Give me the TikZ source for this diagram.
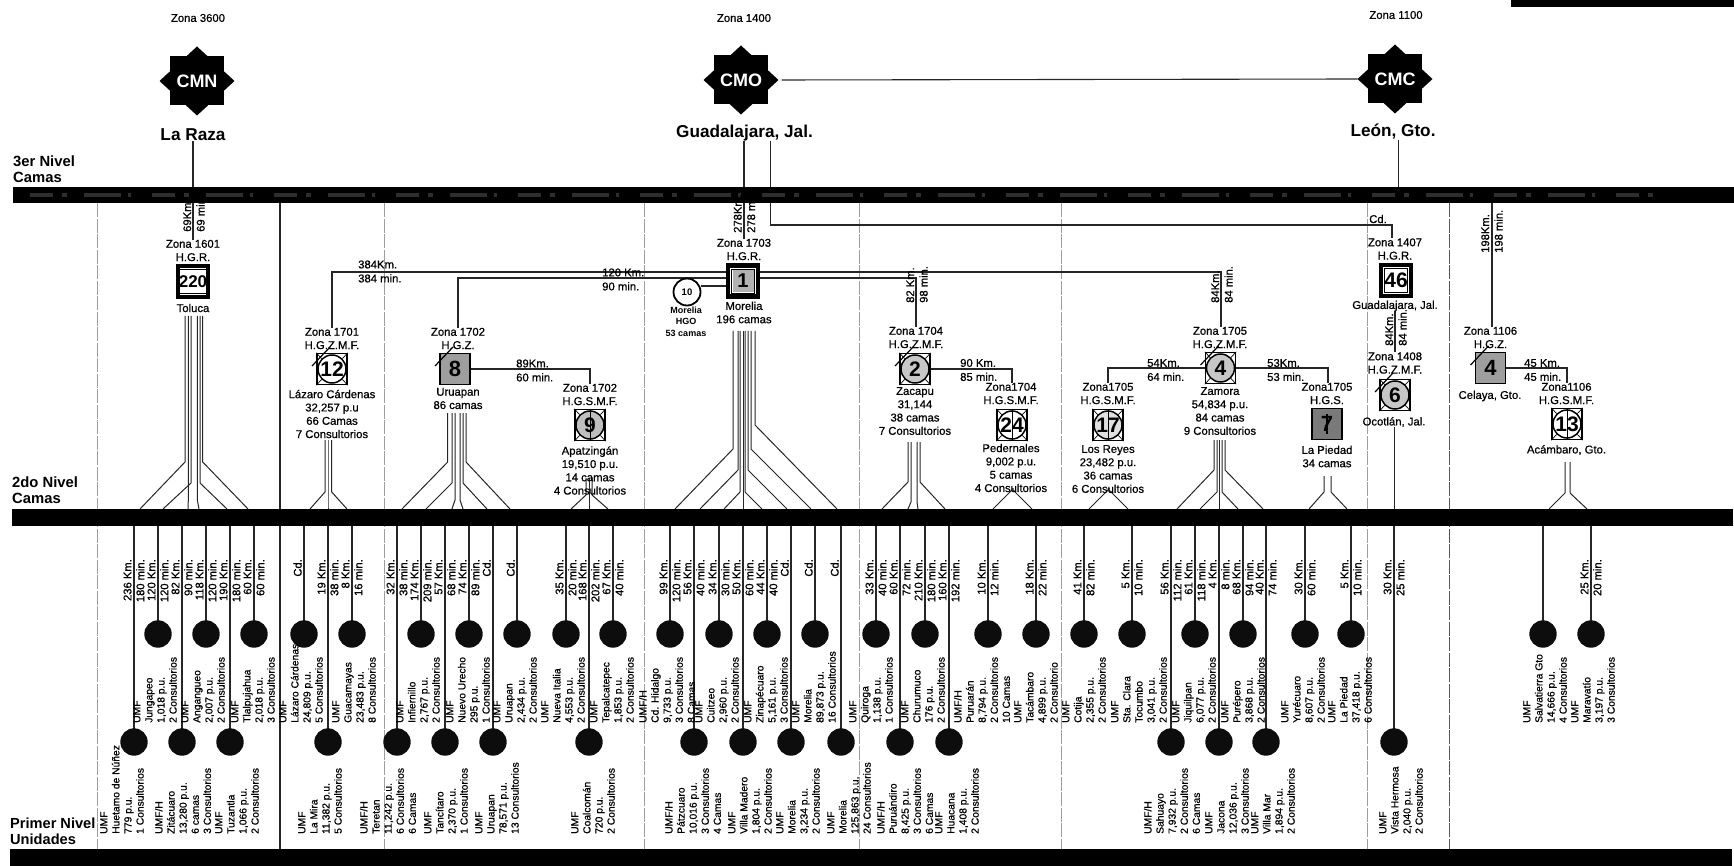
\documentclass[tikz,border=0pt]{standalone}
\usepackage{fontspec}
\setmainfont{Liberation Sans}
\newfontfamily\ink[FakeBold=0.7]{Liberation Sans}
\usetikzlibrary{shapes.geometric}
\pgfdeclarelayer{bg}
\pgfsetlayers{bg,main}
\newcommand{\myfs}[2]{\fontsize{#1}{#2}\selectfont}
\tikzset{
  x=1pt,y=-1pt,
  barbox/.style={fill=black,inner sep=0,outer sep=0},
  conn/.style={draw=black!85,line width=1.1pt},
  bundle/.style={draw=black!85,line width=1pt},
  zonediv/.style={draw=black!38,line width=.8pt,dash pattern=on 14pt off 1.5pt},
  dot/.style={circle,fill=black!95,minimum size=27.4pt,inner sep=0,outer sep=0},
  ztext/.style={align=center,inner sep=0,font=\ink\myfs{11.3}{13.3}},
  kmh/.style={align=left,anchor=west,inner sep=0,font=\ink\myfs{11.3}{14}},
  kmv/.style={rotate=90,anchor=west,align=left,inner sep=0,font=\ink\myfs{11.2}{13.5}},
  kmtext/.style={rotate=90,anchor=east,align=right,inner sep=0,font=\ink\myfs{11.2}{12.9}},
  unittext/.style={rotate=90,anchor=west,align=left,inner sep=0,font=\ink\myfs{10.3}{12.1}},
  level/.style={align=left,anchor=west,inner sep=0,font=\bfseries\myfs{14.8}{15.6}},
  centre/.style={inner sep=0,font=\bfseries\myfs{17.2}{20}},
  starbox/.style={minimum width=75pt,minimum height=69pt,inner sep=0,outer sep=0,text=white,font=\bfseries\myfs{18}{20},
    path picture={
      \fill[black] ([shift={(-27pt,-24.5pt)}]path picture bounding box.center) rectangle ([shift={(27pt,24.5pt)}]path picture bounding box.center);
      \fill[black] (path picture bounding box.west)--(path picture bounding box.north)--(path picture bounding box.east)--(path picture bounding box.south)--cycle;
    }},
  hgrbox/.style={draw=black,line width=4.2pt,fill=white,minimum width=30pt,minimum height=31pt,inner sep=0},
  hgrcore/.style={draw=black,line width=.8pt,minimum width=23pt,minimum height=24pt,inner sep=0,font=\bfseries\myfs{#1}{#1}},
  thinbox/.style={draw=black,line width=1.4pt,fill=white,minimum width=30pt,minimum height=31pt,inner sep=0},
  graybox/.style={draw=black,line width=1.3pt,fill=black!38,minimum width=30pt,minimum height=31pt,inner sep=0,font=\bfseries\myfs{22}{22}},
  circcore/.style={circle,draw=black,line width=1.5pt,minimum size=28pt,inner sep=0,font=\bfseries\myfs{21}{21}},
  hgo/.style={circle,draw=black,line width=1.8pt,fill=white,minimum size=27pt,inner sep=0,font=\bfseries\myfs{9.5}{10}},
  tiny/.style={align=center,inner sep=0,font=\bfseries\myfs{9}{11.5}},
}
% a ground unit: id, x, circle y, label centre x, label bottom y, distance, label
\newcommand{\unitat}[7]{%
  \node[dot] (c#1) at (#2,#3) {};
  \node[kmtext] (k#1) at (#2,559) {#6};
  \node[unittext] (u#1) at (#4,#5) {#7};
  \begin{pgfonlayer}{bg}\draw[conn] (#2,0 |- bar2.south) -- (c#1.center);\end{pgfonlayer}
}
\newcommand{\upunit}[5]{\unitat{#1}{#2}{634}{#3}{723}{#4}{#5}}
\newcommand{\lounit}[5]{\unitat{#1}{#2}{742}{#3}{834}{#4}{#5}}
% fan: top y, list of x/break y/end x
\newcommand{\fan}[2]{%
  \begin{pgfonlayer}{bg}
  \foreach \fx/\fb/\fe in {#2}{\draw[bundle] (\fx,#1) -- (\fx,\fb) -- (\fe,0 |- bar2.north);}
  \end{pgfonlayer}
}
\newcommand{\hgrnode}[5]{% name,x,y,text,size
  \node[hgrbox] (#1) at (#2,#3) {};
  \node[hgrcore=#5] (#1i) at (#1) {#4};
}
\newcommand{\circnode}[5]{% name,x,y,text,fill
  \node[thinbox] (#1) at (#2,#3) {};
  \node[circcore,fill=#5] (#1c) at (#1) {#4};
  \draw[line width=.7pt] (#1.north west)--(#1c.north west) (#1.north east)--(#1c.north east)
     (#1.south west)--(#1c.south west) (#1.south east)--(#1c.south east);
}
\newcommand{\slashmark}[1]{\draw[line width=1.2pt] ([shift={(-20,-3)}]#1.center)--([shift={(-2,-22)}]#1.center);}
\newcommand{\stemmark}[1]{\draw[line width=1pt] (#1c.north)--(#1c.south);}
\begin{document}
\begin{tikzpicture}
\useasboundingbox (0,0) rectangle (1734,866);
% bars
\node[barbox,minimum width=1721pt,minimum height=16.5pt] (bar3) at (873.5,195) {};
\node[barbox,minimum width=1721pt,minimum height=17pt] (bar2) at (872.5,517.5) {};
\node[barbox,minimum width=1722pt,minimum height=17pt] (bar1) at (871,857.5) {};
\node[barbox,minimum width=223pt,minimum height=7pt] (corner) at (1622.5,3.5) {};
\draw[black!82,line width=3.5pt,dash pattern=on 23pt off 9pt on 5pt off 17pt on 37pt off 7pt on 3pt off 21pt] (30,195) -- (1660,195);
% zone dividers
\begin{pgfonlayer}{bg}
\foreach \dx in {97,384,644,859,1061,1367}{\draw[zonediv] (\dx,0 |- bar3.south) -- (\dx,0 |- bar1.north);}
\draw[zonediv,draw=black!65] (1449,0 |- bar3.south) -- (1449,0 |- bar1.north);
\draw[conn] (280,0 |- bar3.south) -- (280,0 |- bar1.north);
\end{pgfonlayer}
% level labels
\node[level] (l3) at (13,169.5) {3er Nivel\\Camas};
\node[level] (l2) at (12,490) {2do Nivel\\Camas};
\node[level,font=\bfseries\myfs{14.6}{16}] (l1) at (10,831) {Primer Nivel\\Unidades};
% third level
\node[ztext] (z3600) at (198,18) {Zona 3600};
\node[ztext] (z1400) at (744,18) {Zona 1400};
\node[ztext] (z1100) at (1396,15) {Zona 1100};
\node[starbox] (cmn) at (197,81) {CMN};
\node[starbox] (cmo) at (741,80) {CMO};
\node[starbox] (cmc) at (1395,79) {CMC};
\node[centre] (laraza) at (193,135) {La Raza};
\node[centre] (guad) at (744.5,133) {Guadalajara, Jal.};
\node[centre] (leon) at (1393,132) {León, Gto.};
% second level hospitals
\node[ztext] (z1601) at (193,250.5) {Zona 1601\\H.G.R.};
\hgrnode{n220}{193}{281.5}{220}{17}
\node[ztext] (tol) at (193,308) {Toluca};
\node[ztext] (z1701) at (332,338.5) {Zona 1701\\H.G.Z.M.F.};
\circnode{n12}{332}{369}{12}{white}
\slashmark{n12}
\node[ztext] (t12) at (332,414) {Lázaro Cárdenas\\32,257 p.u\\66 Camas\\7 Consultorios};
\node[ztext] (z1702) at (458,338.5) {Zona 1702\\H.G.Z.};
\node[graybox] (n8) at (455,369) {8};
\slashmark{n8}
\node[ztext] (t8) at (458,398.5) {Uruapan\\86 camas};
\node[ztext] (z1702b) at (590,394.5) {Zona 1702\\H.G.S.M.F.};
\circnode{n9}{590}{425}{9}{black!25}
\stemmark{n9}
\node[ztext] (t9) at (590,470.5) {Apatzingán\\19,510 p.u.\\14 camas\\4 Consultorios};
\node[ztext] (z1703) at (744,249.5) {Zona 1703\\H.G.R.};
\hgrnode{n1}{743}{281}{}{20}
\node[fill=black!30,minimum width=21pt,minimum height=22pt,inner sep=0] (n1g) at (n1) {};
\node[inner sep=0,font=\bfseries\myfs{20}{20}] (n1t) at (n1) {1};
\node[ztext] (t1) at (744,312.5) {Morelia\\196 camas};
\node[hgo] (hgo) at (687,292) {10};
\node[tiny] (thgo) at (686,321.5) {Morelia\\HGO\\53 camas};
\node[ztext] (z1704) at (916,337.5) {Zona 1704\\H.G.Z.M.F.};
\circnode{n2}{915}{369}{2}{black!22}
\slashmark{n2}
\node[ztext] (t2) at (915,411) {Zacapu\\31,144\\38 camas\\7 Consultorios};
\node[ztext] (z1704b) at (1011,393.5) {Zona1704\\H.G.S.M.F.};
\circnode{n24}{1012}{425}{24}{white}
\stemmark{n24}
\node[ztext] (t24) at (1011,468) {Pedernales\\9,002 p.u.\\5 camas\\4 Consultorios};
\node[ztext] (z1705a) at (1108,393.5) {Zona1705\\H.G.S.M.F.};
\circnode{n17}{1108}{425}{17}{black!12}
\stemmark{n17}
\node[ztext] (t17) at (1108,469) {Los Reyes\\23,482 p.u.\\36 camas\\6 Consultorios};
\node[ztext] (z1705) at (1220,337.5) {Zona 1705\\H.G.Z.M.F.};
\circnode{n4}{1220.5}{368}{4}{black!22}
\slashmark{n4}
\node[ztext] (t4) at (1220,411) {Zamora\\54,834 p.u.\\84 camas\\9 Consultorios};
\node[ztext] (z1705b) at (1327,393.5) {Zona1705\\H.G.S.};
\node[graybox,fill=black!52,line width=1.6pt] (n7) at (1327,424) {7};
\draw[line width=1.4pt] (n7.center |- n7.north) ++(0,6) -- ++(0,20);
\node[ztext] (t7) at (1327,456.5) {La Piedad\\34 camas};
\node[ztext] (z1407) at (1395,249) {Zona 1407\\H.G.R.};
\hgrnode{n46}{1396}{280.5}{46}{21}
\node[ztext] (t46) at (1395,306) {Guadalajara, Jal.};
\node[ztext] (z1408) at (1395,363) {Zona 1408\\H.G.Z.M.F.};
\circnode{n6}{1395}{395}{6}{black!22}
\slashmark{n6}
\node[ztext] (t6) at (1394,422) {Ocotlán, Jal.};
\node[ztext] (z1106) at (1490.5,337.5) {Zona 1106\\H.G.Z.};
\node[graybox] (n4c) at (1490.5,368) {4};
\slashmark{n4c}
\node[ztext] (t4c) at (1490,396) {Celaya, Gto.};
\node[ztext] (z1106b) at (1566.5,393.5) {Zona1106\\H.G.S.M.F.};
\circnode{n13}{1567}{424}{13}{white}
\stemmark{n13}
\node[ztext] (t13) at (1566.5,450) {Acámbaro, Gto.};
% connector labels
\node[kmv] (a1) at (194,232) {69Km.\\69 min.};
\node[kmv] (a2) at (744.5,233) {278Km.\\278 min.};
\node[kmv] (a3) at (917,303) {82 Km.\\98 min.};
\node[kmv] (a4) at (1222,303) {84Km.\\84 min.};
\node[kmv] (a5) at (1396,346) {84Km.\\84 min.};
\node[kmv] (a6) at (1492,253) {198Km.\\198 min.};
\node[kmh] (h1) at (358,271.5) {384Km.\\384 min.};
\node[kmh] (h2) at (602,279.5) {120 Km.\\90 min.};
\node[kmh] (h3) at (516,370.5) {89Km.\\60 min.};
\node[kmh] (h4) at (960,370) {90 Km.\\85 min.};
\node[kmh] (h5) at (1147,370) {54Km.\\64 min.};
\node[kmh] (h6) at (1267,370) {53Km.\\53 min.};
\node[kmh] (h7) at (1524,370) {45 Km.\\45 min.};
\node[ztext] (cd) at (1378,219) {Cd.};
% connectors between hospitals
\begin{pgfonlayer}{bg}
\draw[conn,shorten <=3pt] (cmo.east) -- (cmc.west);
\draw[conn] (laraza.south) -- (z1601.north);
\draw[conn] (744,0 |- guad.south) -- (744,0 |- z1703.north);
\draw[conn] (770.6,0 |- guad.south) -- (770.6,225) -- (1392,225) -- (1392,0 |- z1407.north);
\draw[conn] (1398.5,0 |- leon.south) -- (1398.5,0 |- bar3.north);
\draw[conn] (332,0 |- z1701.north) -- (332,272) -- (1221,272) -- (1221,0 |- z1705.north);
\draw[conn] (458,0 |- z1702.north) -- (458,278) -- (916,278) -- (916,0 |- z1704.north);
\draw[conn] (hgo.east |- 0,286) -- (n1.west |- 0,286);
\draw[conn] (n8.east) -- (590,369) -- (590,0 |- z1702b.north);
\draw[conn] (n2.east) -- (1012,369) -- (1012,0 |- z1704b.north);
\draw[conn] (n4.west) -- (1108,368) -- (1108,0 |- z1705a.north);
\draw[conn] (n4.east) -- (1328,368) -- (1328,0 |- z1705b.north);
\draw[conn] (n4c.east) -- (1567,368) -- (1567,0 |- z1106b.north);
\draw[conn] (1395,0 |- t46.south) -- (1395,0 |- z1408.north);
\draw[conn] (1492,0 |- bar3.south) -- (1492,0 |- z1106.north);
\end{pgfonlayer}
% fans
\fan{316}{185/462/140,191/483/163,188.3/500/188,197.3/500/199,200/483/227,202.7/462/248}
\fan{440}{325/492/310,328/508/328,331.7/492/347}
\fan{413}{447.7/462/402,452/483/426,455/500/452,460/500/463,463/483/487,466/462/510}
\fan{478}{586/495/571,589.3/508/589.3,592/495/608}
\fan{331}{733/449/675,738/470/700,740/492/724,743/508/743,745/492/762,748/470/787,751/449/811,755/425/837}
\fan{442}{908/482/882,911/502/908,917/502/918,920/482/945}
\fan{488}{1012/490/993,1013/490/1032}
\fan{488}{1108/490/1089,1109/490/1128}
\fan{440}{1214/470/1177,1217/492/1200,1219/508/1219,1222/492/1238,1225/470/1263}
\fan{476}{1324/492/1309,1331/492/1347}
\fan{462}{1565/493/1549,1570/493/1587}
% first level units
\lounit{1}{134}{122}{236 Km.\\180 min.}{UMF\\Huetamo de Núñez\\779 p.u.\\1 Consultorios}
\upunit{2}{158}{155}{120 Km.\\120 min.}{UMF\\Jungapeo\\1,018 p.u.\\2 Consultorios}
\lounit{3}{182}{183}{82 Km.\\90 min.}{UMF/H\\Zitácuaro\\13,280 p.u.\\6 camas\\3 Consultorios}
\upunit{4}{206}{203}{118 Km.\\120 min.}{UMF\\Angangueo\\2,007 p.u.\\2 Consultorios}
\lounit{5}{230}{237}{190 Km.\\180 min.}{UMF\\Tuzantla\\1,066 p.u.\\2 Consultorios}
\upunit{6}{254}{253}{60 Km.\\60 min.}{UMF\\Tlalpujahua\\2,018 p.u.\\3 Consultorios}
\upunit{7}{304}{301}{Cd.\\~}{UMF\\Lázaro Cárdenas\\24,809 p.u.\\5 Consultorios}
\lounit{8}{328}{320}{19 Km.\\38 min.}{UMF\\La Mira\\11,382 p.u.\\5 Consultorios}
\upunit{9}{352}{354}{8 Km.\\16 min.}{UMF\\Guacamayas\\23,483 p.u.\\8 Consultorios}
\lounit{10}{397}{388}{32 Km.\\38 min.}{UMF/H\\Teretan\\11,242 p.u.\\6 Consultorios\\6 Camas}
\upunit{11}{421}{418}{174 Km.\\209 min.}{UMF\\Infiernillo\\2,767 p.u.\\2 Consultorios}
\lounit{12}{445}{446}{57 Km.\\68 min.}{UMF\\Tancítaro\\2,370 p.u.\\1 Consultorios}
\upunit{13}{469}{468}{74 Km.\\89 min.}{UMF\\Nuevo Urecho\\295 p.u.\\1 Consultorios}
\lounit{14}{493}{497}{Cd.\\~}{UMF\\Uruapan\\78,571 p.u.\\13 Consultorios}
\upunit{15}{517}{515}{Cd.\\~}{UMF\\Uruapan\\2,434 p.u.\\2 Consultorios}
\upunit{16}{566}{563}{35 Km.\\20 min.}{UMF\\Nueva Italia\\4,553 p.u.\\2 Consultorios}
\lounit{17}{589}{593}{168 Km.\\202 min.}{UMF\\Coalcomán\\720 p.u.\\2 Consultorios}
\upunit{18}{613}{612}{67 Km.\\40 min.}{UMF\\Tepalcatepec\\1,853 p.u.\\2 Consultorios}
\upunit{19}{670}{667}{99 Km.\\120 min.}{UMF/H\\Cd. Hidalgo\\9,733 p.u.\\3 Consultorios\\8 Camas}
\lounit{20}{694}{693}{56 Km.\\40 min.}{UMF/H\\Pátzcuaro\\10,016 p.u.\\3 Consultorios\\4 Camas}
\upunit{21}{719}{717}{34 Km.\\30 min.}{UMF\\Cuitzeo\\2,960 p.u.\\2 Consultorios}
\lounit{22}{743}{750}{50 Km.\\60 min.}{UMF\\Villa Madero\\1,804 p.u.\\2 Consultorios}
\upunit{23}{767}{766}{44 Km.\\40 min.}{UMF\\Zinapécuaro\\5,161 p.u.\\3 Consultorios}
\lounit{24}{791}{798}{Cd.\\~}{UMF\\Morelia\\3,234 p.u.\\2 Consultorios}
\upunit{25}{815}{814}{Cd.\\~}{UMF\\Morelia\\89,873 p.u.\\16 Consultorios}
\lounit{26}{841}{849}{Cd.\\~}{UMF\\Morelia\\125,863 p.u.\\24 Consultorios}
\upunit{27}{876}{871}{33 Km.\\40 min.}{UMF\\Quiroga\\1,138 p.u.\\1 Consultorios}
\lounit{28}{900}{905}{60 Km.\\72 min.}{UMF/H\\Puruándiro\\8,425 p.u.\\3 Consultorios\\6 Camas}
\upunit{29}{925}{923}{210 Km.\\180 min.}{UMF\\Churumuco\\176 p.u.\\2 Consultorios}
\lounit{30}{949}{957}{160 Km.\\192 min.}{UMF\\Huacana\\1,408 p.u.\\2 Consultorios}
\upunit{31}{988}{982}{10 Km.\\12 min.}{UMF/H\\Puruarán\\8,794 p.u.\\2 Consultorios\\10 Camas}
\upunit{32}{1036}{1036}{18 Km.\\22 min.}{UMF\\Tacámbaro\\4,899 p.u.\\2 Consultorio}
\upunit{33}{1084}{1084}{41 Km.\\82 min.}{UMF\\Cotija\\2,355 p.u.\\2 Consultorios}
\upunit{34}{1132}{1139}{5 Km.\\10 min.}{UMF\\Sta. Clara\\Tocumbo\\3,041 p.u.\\2 Consultorios}
\lounit{35}{1171}{1172}{56 Km.\\112 min.}{UMF/H\\Sahuayo\\7,932 p.u.\\2 Consultorios\\6 Camas}
\upunit{36}{1195}{1194}{61 Km.\\118 min.}{UMF\\Jiquilpan\\6,077 p.u.\\2 Consultorios}
\lounit{37}{1219}{1227}{4 Km.\\8 min.}{UMF\\Jacona\\12,036 p.u.\\3 Consultorios}
\upunit{38}{1243}{1243}{68 Km.\\94 min.}{UMF\\Purépero\\3,868 p.u.\\2 Consultorios}
\lounit{39}{1266}{1273}{40 Km.\\74 min.}{UMF\\Villa Mar\\1,894 p.u.\\2 Consultorios}
\upunit{40}{1305}{1303}{30 Km.\\60 min.}{UMF\\Yurécuaro\\8,607 p.u.\\2 Consultorios}
\upunit{41}{1351}{1350}{5 Km.\\10 min.}{UMF\\La Piedad\\37,418 p.u.\\6 Consultorios}
\lounit{42}{1394}{1401}{30 Km.\\25 min.}{UMF\\Vista Hermosa\\2,040 p.u.\\2 Consultorios}
\upunit{43}{1543}{1545}{}{UMF\\Salvatierra Gto\\14,666 p.u.\\4 Consultorios}
\upunit{44}{1591}{1593}{25 Km.\\20 min.}{UMF\\Maravatío\\3,197 p.u.\\3 Consultorios}
\begin{pgfonlayer}{bg}
\draw[conn] (1394.6,0 |- t6.south) -- (1394.6,0 |- bar2.north);
\end{pgfonlayer}
\end{tikzpicture}
\end{document}
